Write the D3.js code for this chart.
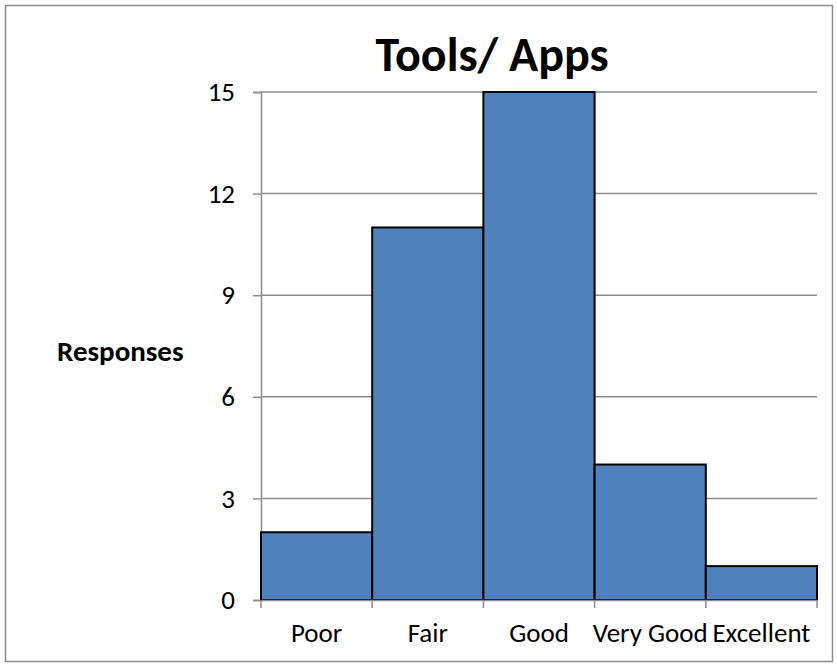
<!DOCTYPE html>
<html>
<head>
<meta charset="utf-8">
<script src="https://cdn.jsdelivr.net/npm/d3@7"></script>
<style>
  body { margin: 0; background: #fff; }
  svg text { font-family: Carlito, "Liberation Sans Narrow", "Open Sans", sans-serif; fill: #000; }
</style>
</head>
<body>
<div id="chart"></div>
<script>
// bar chart: responses per rating
var categories = ['Poor', 'Fair', 'Good', 'Very Good', 'Excellent'];
var responses = [2, 11, 15, 4, 1];
var yTicks = [0, 3, 6, 9, 12, 15];

var svgWidth = 837;
var svgHeight = 666;
var margin = { top: 92, right: 20, bottom: 66, left: 261 };
var width = 817 - margin.left;
var height = 600 - margin.top;

var svg = d3.select('#chart')
  .append('svg')
  .attr('width', svgWidth)
  .attr('height', svgHeight);

// outer frame
svg.append('rect')
  .attr('x', 5.5).attr('y', 5.5)
  .attr('width', 827).attr('height', 656)
  .attr('fill', 'none')
  .attr('stroke', '#8c8c8c')
  .attr('stroke-width', 1.5);

var chartGroup = svg.append('g')
  .attr('transform', `translate(${margin.left}, ${margin.top})`);

var xScale = d3.scaleBand()
  .domain(categories)
  .range([0, width])
  .padding(0);

var yScale = d3.scaleLinear()
  .domain([0, 15])
  .range([height, 0]);

// gridlines
chartGroup.append('g')
  .selectAll('line')
  .data(yTicks.filter(d => d > 0))
  .enter()
  .append('line')
  .attr('x1', 0)
  .attr('x2', width)
  .attr('y1', d => yScale(d))
  .attr('y2', d => yScale(d))
  .attr('stroke', '#8c8c8c')
  .attr('stroke-width', 1.5);

// y axis
var yAxis = chartGroup.append('g')
  .call(d3.axisLeft(yScale).tickValues(yTicks).tickSize(8).tickPadding(18));
yAxis.select('.domain').attr('stroke', '#8c8c8c').attr('stroke-width', 1.5);
yAxis.selectAll('.tick line').attr('stroke', '#8c8c8c').attr('stroke-width', 1.5);
yAxis.selectAll('.tick text').style('font-size', '27px');

// bars
chartGroup.selectAll('.bar')
  .data(responses)
  .enter()
  .append('rect')
  .attr('class', 'bar')
  .attr('x', (d, i) => xScale(categories[i]))
  .attr('y', d => yScale(d))
  .attr('width', xScale.bandwidth())
  .attr('height', d => height - yScale(d))
  .attr('fill', '#4f81bd')
  .attr('stroke', '#000')
  .attr('stroke-width', 2);

// x axis
var xAxis = chartGroup.append('g')
  .attr('transform', `translate(0, ${height})`)
  .call(d3.axisBottom(xScale).tickSize(0).tickPadding(23));
xAxis.select('.domain').attr('stroke', '#8c8c8c').attr('stroke-width', 1.5);
xAxis.selectAll('.tick text').style('font-size', '27px');

// category boundary ticks
chartGroup.append('g')
  .selectAll('line')
  .data(d3.range(categories.length + 1))
  .enter()
  .append('line')
  .attr('x1', i => i * xScale.step())
  .attr('x2', i => i * xScale.step())
  .attr('y1', height)
  .attr('y2', height + 8)
  .attr('stroke', '#8c8c8c')
  .attr('stroke-width', 1.5);

// title
svg.append('text')
  .attr('x', 492)
  .attr('y', 71)
  .attr('text-anchor', 'middle')
  .style('font-size', '48px')
  .style('font-weight', 'bold')
  .text('Tools/ Apps');

// y label
svg.append('text')
  .attr('x', 57)
  .attr('y', 361)
  .style('font-size', '29px')
  .style('font-weight', 'bold')
  .text('Responses');
</script>
</body>
</html>
